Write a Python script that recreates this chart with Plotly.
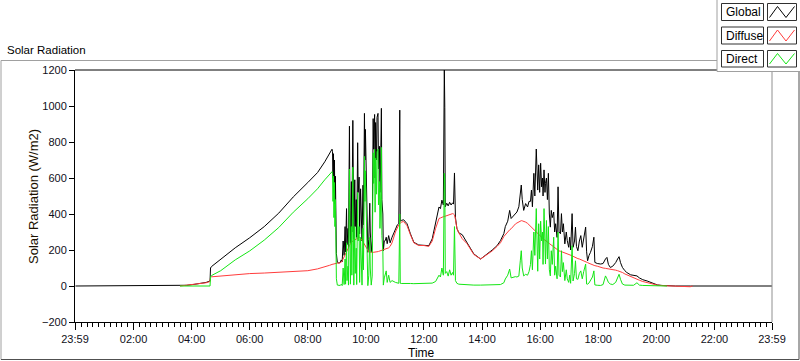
import pandas as pd
import plotly.graph_objects as go

# ---------------- data ----------------
times = [
    "00:00", "03:36", "03:50", "04:05", "04:20", "04:30", "04:38", "04:39", "04:41",
    "05:00", "05:30", "06:00", "06:30", "07:00", "07:30", "08:00", "08:20", "08:35", "08:45",
    "08:50", "08:51", "08:52", "08:53", "08:54", "08:55", "08:56", "08:57", "08:58", "08:59",
    "09:01", "09:04", "09:07", "09:09", "09:11", "09:13", "09:15", "09:17", "09:18", "09:20",
    "09:21", "09:23", "09:24", "09:26", "09:27", "09:28", "09:30", "09:31", "09:33", "09:34",
    "09:35", "09:37", "09:38", "09:40", "09:41", "09:43", "09:44", "09:46", "09:47", "09:49",
    "09:50", "09:52", "09:54", "09:55", "09:57", "09:58", "09:59", "10:01", "10:02", "10:04",
    "10:06", "10:08", "10:09", "10:11", "10:13", "10:15", "10:16", "10:18", "10:19", "10:20",
    "10:22", "10:23", "10:25", "10:26", "10:28", "10:29", "10:30", "10:32", "10:33", "10:35",
    "10:36", "10:38", "10:40", "10:42", "10:44", "10:47", "10:50", "10:54", "11:01", "11:05",
    "11:08", "11:10", "11:11", "11:13", "11:18", "11:25", "11:32", "11:39", "11:49", "12:00",
    "12:10", "12:17", "12:24", "12:31", "12:34", "12:37", "12:40", "12:42", "12:43", "12:44",
    "12:47", "12:50", "12:53", "12:56", "12:59", "13:01", "13:03", "13:05", "13:08", "13:12",
    "13:19", "13:29", "13:43", "13:57", "14:11", "14:21", "14:31", "14:38", "14:45", "14:48",
    "14:53", "14:57", "15:00", "15:05", "15:09", "15:12", "15:16", "15:19", "15:21", "15:23",
    "15:26", "15:30", "15:34", "15:37", "15:40", "15:42", "15:44", "15:47", "15:49", "15:52",
    "15:54", "15:55", "15:57", "15:59", "16:01", "16:03", "16:05", "16:06", "16:08", "16:10",
    "16:11", "16:13", "16:15", "16:17", "16:19", "16:21", "16:23", "16:25", "16:28", "16:30",
    "16:32", "16:35", "16:37", "16:39", "16:42", "16:44", "16:46", "16:48", "16:51", "16:54",
    "16:56", "16:59", "17:01", "17:03", "17:06", "17:08", "17:11", "17:13", "17:15", "17:18",
    "17:21", "17:24", "17:27", "17:30", "17:34", "17:36", "17:38", "17:41", "17:44", "17:48",
    "17:51", "17:53", "17:58", "18:05", "18:10", "18:15", "18:18", "18:21", "18:25", "18:30",
    "18:36", "18:40", "18:43", "18:46", "18:50", "18:55", "18:59", "19:07", "19:13", "19:20",
    "19:25", "19:32", "19:41", "19:50", "20:02", "20:12", "20:22", "20:29", "20:35", "20:40",
    "21:10", "21:15", "23:59",
]

global_wm2 = [
    0, 0, 4, 9, 15, 20, 28, 100, 108,
    150, 212, 268, 330, 405, 495, 575, 630, 690, 740,
    760, 748, 600, 735, 520, 700, 455, 610, 300, 180,
    132, 128, 130, 145, 135, 250, 170, 330, 190, 430,
    230, 320, 210, 888, 420, 240, 580, 300, 920, 460,
    260, 590, 330, 480, 270, 796, 520, 605, 290, 540,
    420, 250, 560, 340, 959, 700, 870, 551, 320, 187,
    260, 460, 300, 190, 250, 930, 760, 953, 600, 908,
    700, 936, 959, 650, 776, 520, 600, 987, 480, 400,
    196, 250, 252, 271, 235, 280, 240, 271, 318, 340,
    346, 977, 360, 364, 368, 346, 290, 243, 228, 228,
    224, 262, 346, 439, 430, 477, 450, 1215, 990, 440,
    460, 445, 465, 450, 462, 455, 628, 380, 320, 295,
    285, 243, 178, 150, 178, 200, 224, 252, 291, 330,
    360, 420, 375, 390, 400, 411, 440, 514, 561, 480,
    420, 458, 439, 470, 470, 533, 440, 626, 500, 761,
    560, 533, 673, 520, 682, 551, 600, 500, 645, 520,
    570, 600, 480, 626, 400, 327, 420, 380, 411, 300,
    346, 270, 551, 300, 290, 402, 300, 346, 234, 300,
    252, 215, 271, 200, 402, 215, 250, 327, 220, 196,
    250, 280, 215, 260, 327, 190, 140, 170, 187, 220,
    271, 131, 125, 122, 125, 150, 159, 120, 103, 110,
    130, 150, 163, 130, 103, 85, 75, 62, 58, 56,
    45, 35, 28, 18, 6, 3, 1, 0, 0, 0,
    0, 0, 0,
]

diffuse_wm2 = [
    None, 0, 4, 8, 14, 18, 25, 48, 51,
    56, 65, 69, 72, 76, 80, 85, 95, 105, 115,
    120, 121, 122, 122, 123, 123, 124, 124, 125, 126,
    127, 127, 128, 132, 140, 150, 160, 172, 178, 187,
    195, 205, 212, 225, 232, 238, 243, 246, 250, 252,
    254, 257, 259, 262, 264, 268, 270, 271, 270, 266,
    262, 255, 245, 240, 230, 225, 220, 212, 205, 195,
    190, 188, 187, 187, 187, 187, 187, 187, 187, 188,
    189, 190, 191, 192, 194, 195, 196, 198, 199, 200,
    201, 203, 205, 207, 209, 212, 220, 240, 300, 325,
    340, 345, 350, 355, 358, 335, 285, 240, 225, 225,
    220, 250, 320, 375, 378, 383, 385, 386, 387, 388,
    392, 395, 398, 400, 402, 400, 395, 370, 320, 295,
    263, 235, 175, 150, 175, 195, 220, 240, 275, 285,
    300, 312, 318, 335, 345, 350, 358, 362, 363, 362,
    360, 355, 348, 340, 330, 325, 320, 310, 305, 300,
    295, 292, 285, 280, 272, 268, 265, 262, 258, 255,
    252, 248, 244, 240, 236, 232, 228, 222, 215, 210,
    206, 200, 196, 195, 193, 191, 190, 188, 186, 184,
    182, 178, 176, 172, 168, 165, 160, 157, 155, 152,
    150, 147, 145, 142, 135, 132, 130, 126, 122, 118,
    115, 113, 110, 103, 100, 98, 97, 96, 94, 91,
    88, 85, 83, 80, 75, 67, 62, 50, 44, 37,
    32, 25, 19, 11, 5, 2, 1, 0, -1, -4,
    -4, 0, None,
]

direct_wm2 = [
    None, 0, 0, 0, 0, 0, 0, 50, 58,
    85, 145, 195, 255, 325, 410, 485, 540, 590, 620,
    635, 625, 470, 610, 380, 575, 330, 480, 170, 40,
    5, 2, 3, 10, 2, 100, 8, 150, 10, 240,
    30, 110, 5, 650, 180, 10, 330, 60, 660, 200,
    5, 330, 70, 210, 8, 520, 250, 330, 20, 270,
    150, 5, 320, 90, 720, 470, 640, 330, 110, 2,
    60, 270, 100, 5, 55, 740, 570, 760, 410, 710,
    510, 745, 760, 450, 580, 320, 400, 770, 280, 200,
    5, 45, 60, 84, 20, 60, 20, 30, 20, 18,
    15, 400, 15, 14, 15, 15, 14, 13, 13, 14,
    15, 16, 25, 60, 50, 100, 60, 626, 600, 70,
    80, 55, 90, 60, 75, 60, 330, 30, 15, 10,
    8, 6, 5, 5, 6, 6, 6, 8, 18, 39,
    60, 94, 45, 50, 52, 50, 55, 140, 196, 100,
    56, 65, 60, 80, 120, 196, 90, 300, 170, 430,
    250, 82, 346, 150, 360, 250, 300, 120, 430, 200,
    122, 364, 150, 330, 90, 56, 196, 120, 271, 60,
    110, 40, 300, 60, 50, 196, 80, 130, 30, 90,
    40, 20, 60, 15, 224, 28, 70, 140, 40, 37,
    70, 84, 40, 80, 122, 11, 10, 17, 30, 50,
    84, 6, 4, 3, 8, 56, 40, 20, 11, 8,
    20, 50, 65, 37, 11, 5, 4, 3, 4, 18,
    5, 3, 2, 2, 1, 0, 0, None, None, None,
    None, None, None,
]

series_names = ["Global", "Diffuse", "Direct"]
series_colors = ["#000000", "#ff3c3c", "#14e614"]
y_ticks = [-200, 0, 200, 400, 600, 800, 1000, 1200]
x_tick_labels = ["23:59", "02:00", "04:00", "06:00", "08:00", "10:00", "12:00",
                 "14:00", "16:00", "18:00", "20:00", "22:00", "23:59"]

assert len(times) == len(global_wm2) == len(diffuse_wm2) == len(direct_wm2)

# ---------------- figure ----------------
day = "2024-01-02 "
t = pd.to_datetime([day + s for s in times])
x_start = pd.Timestamp("2024-01-01 23:59")
x_end = pd.Timestamp("2024-01-02 23:59")
tick_vals = [x_start] + [pd.Timestamp(day + lbl) for lbl in x_tick_labels[1:-1]] + [x_end]

FONT = "Liberation Sans"
fig = go.Figure()
for name, vals, col in zip(series_names, [global_wm2, diffuse_wm2, direct_wm2], series_colors):
    fig.add_trace(go.Scatter(x=t, y=vals, mode="lines", name=name,
                             line=dict(color=col, width=1), connectgaps=False,
                             showlegend=False, hoverinfo="skip"))

# pixel geometry helpers (plot area: x 75..772, y 70..322)
L, R, T, B = 75, 772, 70, 322
W, H = R - L, B - T
def X(px):
    return (px - L) / W
def Y(py):
    return (B - py) / H

shapes = []
def line(x0, y0, x1, y1, color, width=1):
    shapes.append(dict(type="line", xref="paper", yref="paper",
                       x0=X(x0), y0=Y(y0), x1=X(x1), y1=Y(y1),
                       line=dict(color=color, width=width), layer="above"))
def rect(x0, y0, x1, y1, color, fill="white", width=1):
    shapes.append(dict(type="rect", xref="paper", yref="paper",
                       x0=X(x0), y0=Y(y0), x1=X(x1), y1=Y(y1),
                       line=dict(color=color, width=width), fillcolor=fill, layer="above"))

# outer panel frame
line(1, 60.5, 800, 60.5, "#a0a0a0")
line(1, 60.5, 1, 359.5, "#a0a0a0")
line(1, 359.5, 799, 359.5, "#505050")
line(799, 60.5, 799, 359.5, "#505050")
# plot frame top and right
line(L, T, R, T, "#000000")
line(R, T, R, B, "#909090")

# legend panel
rect(717, -2, 802, 71.5, "#a0a0a0")
annotations = []
label_boxes = [(3.5, 20.5), (27, 44), (50.5, 67)]
for (y0, y1), name, col in zip(label_boxes, series_names, series_colors):
    rect(721.5, y0, 763.5, y1, "#303030")
    rect(767.5, y0, 796.5, y1, "#303030")
    yt, yb = y0 + 3, y1 - 3
    path = "M {},{} L {},{} L {},{} L {},{}".format(
        X(769.5), Y(yb), X(777.5), Y(yt), X(786), Y(yb), X(794.5), Y(yt))
    shapes.append(dict(type="path", xref="paper", yref="paper", path=path,
                       line=dict(color=col, width=1), layer="above"))
    annotations.append(dict(x=X(723.5), y=Y((y0 + y1) / 2), xref="paper", yref="paper",
                            text=name, showarrow=False, xanchor="left", yanchor="middle",
                            font=dict(family=FONT, size=12, color="#000000")))

annotations.append(dict(x=X(5), y=Y(50), xref="paper", yref="paper", text="Solar Radiation",
                        showarrow=False, xanchor="left", yanchor="middle",
                        font=dict(family=FONT, size=11.5, color="#000000")))
annotations.append(dict(x=X(33), y=Y(197), xref="paper", yref="paper",
                        text="Solar Radiation (W/m2)", textangle=-90, showarrow=False,
                        xanchor="center", yanchor="middle",
                        font=dict(family=FONT, size=13, color="#1a1000")))
annotations.append(dict(x=X(421), y=Y(353), xref="paper", yref="paper", text="Time",
                        showarrow=False, xanchor="center", yanchor="middle",
                        font=dict(family=FONT, size=12, color="#000000")))

fig.update_layout(
    width=800, height=361,
    margin=dict(l=L, r=800 - R, t=T, b=361 - B, pad=0),
    paper_bgcolor="white", plot_bgcolor="white",
    font=dict(family=FONT, size=11, color="#101020"),
    shapes=shapes, annotations=annotations, hovermode=False,
    xaxis=dict(type="date", range=[x_start, x_end], tickmode="array",
               tickvals=tick_vals, ticktext=x_tick_labels,
               ticks="outside", ticklen=7, tickcolor="#000000",
               showline=True, linecolor="#000000", linewidth=1,
               showgrid=False, zeroline=False,
               tickfont=dict(family=FONT, size=11, color="#101020"),
               minor=dict(ticks="outside", ticklen=4, tickcolor="#000000",
                          dtick=12 * 60 * 1000, tick0="2024-01-02 00:00", showgrid=False)),
    yaxis=dict(range=[-200, 1200], tickmode="array", tickvals=y_ticks,
               ticks="outside", ticklen=5, tickcolor="#000000",
               showline=True, linecolor="#000000", linewidth=1,
               showgrid=False, zeroline=False,
               tickfont=dict(family=FONT, size=11, color="#101020")),
)

fig.write_html("out.html",
               config={"displayModeBar": False, "staticPlot": True},
               post_script="document.body.style.margin='0px';"
                           "document.body.style.overflow='hidden';")
